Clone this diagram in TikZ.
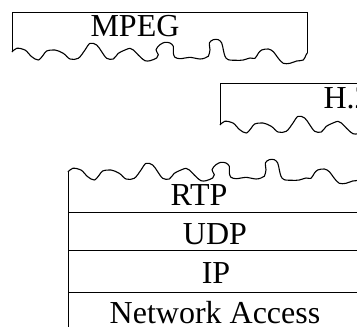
\documentclass[tikz,border=0pt]{standalone}
\usepackage{fontspec}
\setmainfont{Liberation Serif}
\usepackage{tikz}
\usetikzlibrary{calc, positioning}

\begin{document}
\begin{tikzpicture}
[
    x = 1pt, y = -1pt,
    line width = 1pt,
    every node/.style = {inner sep = 0pt, font = \fontsize{32}{38}\selectfont},
    layer/.style = {anchor = base},
    tornline/.style = {line width = 1.1pt, line join = round}
  ]

  \tikzset{pics/tornedge/.style = {code = {
      \draw[tornline] plot[smooth, tension = 0.55] coordinates {
        (0,0) (4.7,-3.7) (13,-2) (19.7,4.7) (26.3,8) (31.3,3) (34.7,-1) (43,-2)
        (51.3,1.3) (58,7) (66.3,6.3) (73,-2) (78,-8.7) (84.7,-7) (89.7,-0.3)
        (94.7,6.3) (101.3,7) (106.3,1.3) (113,-2) (118,-3.7) (121.3,-2) (128,4.7)
        (133,8.7) (138,8.7) (144.7,6) (146.3,2.7) (144,-2.3) (148,-7.3) (153,-9.7)
        (158,-9) (161.3,-5.7) (161.3,1) (163,5.3) (168,6.7) (173,6) (178,5.3)
        (188,7) (193,6) (196.3,4.3) (198,-2.3) (197.3,-9) (201.3,-12.3)
        (206.3,-12.3) (209.7,-9) (211.3,-2.3) (213,4.3) (216.3,7.7) (224.7,8.3)
        (231.3,8) (238,6) (243,6.3) (246.3,1.3) (249.7,-2) (256.3,-3) (261.3,-0.3)
        (266.3,6.3) (271.3,11.3) (278,11.3) (284.7,9) (291.3,8) (294,3) (295.3,1)};
  }}}

  \useasboundingbox (0,0) rectangle (357,327);
  \clip (0,0) rectangle (357,327);

  % MPEG
  \draw (12,52) |- (307,12) -- (307,53);
  \pic at (12,52) {tornedge};
  \node[layer](mpeg) at (135,36) {MPEG};

  % H.261
  \draw (220,125) |- (515,83) -- (515,126);
  \pic at (220,125) {tornedge};
  \node[layer, anchor = base west](h261) at (323,108) {H.261};

  % protocol stack
  \pic at (68,172) {tornedge};
  \draw (68,172) -- (68,335);
  \draw (68,212) -- (365,212);
  \draw (68,250) -- (365,250);
  \draw (68,292) -- (365,292);

  \node[layer](rtp) at (199,205) {RTP};
  \node[layer](udp) at (215,244) {UDP};
  \node[layer](ip) at (216,283) {IP};
  \node[layer](access) at (215,323) {Network Access};

\end{tikzpicture}
\end{document}
